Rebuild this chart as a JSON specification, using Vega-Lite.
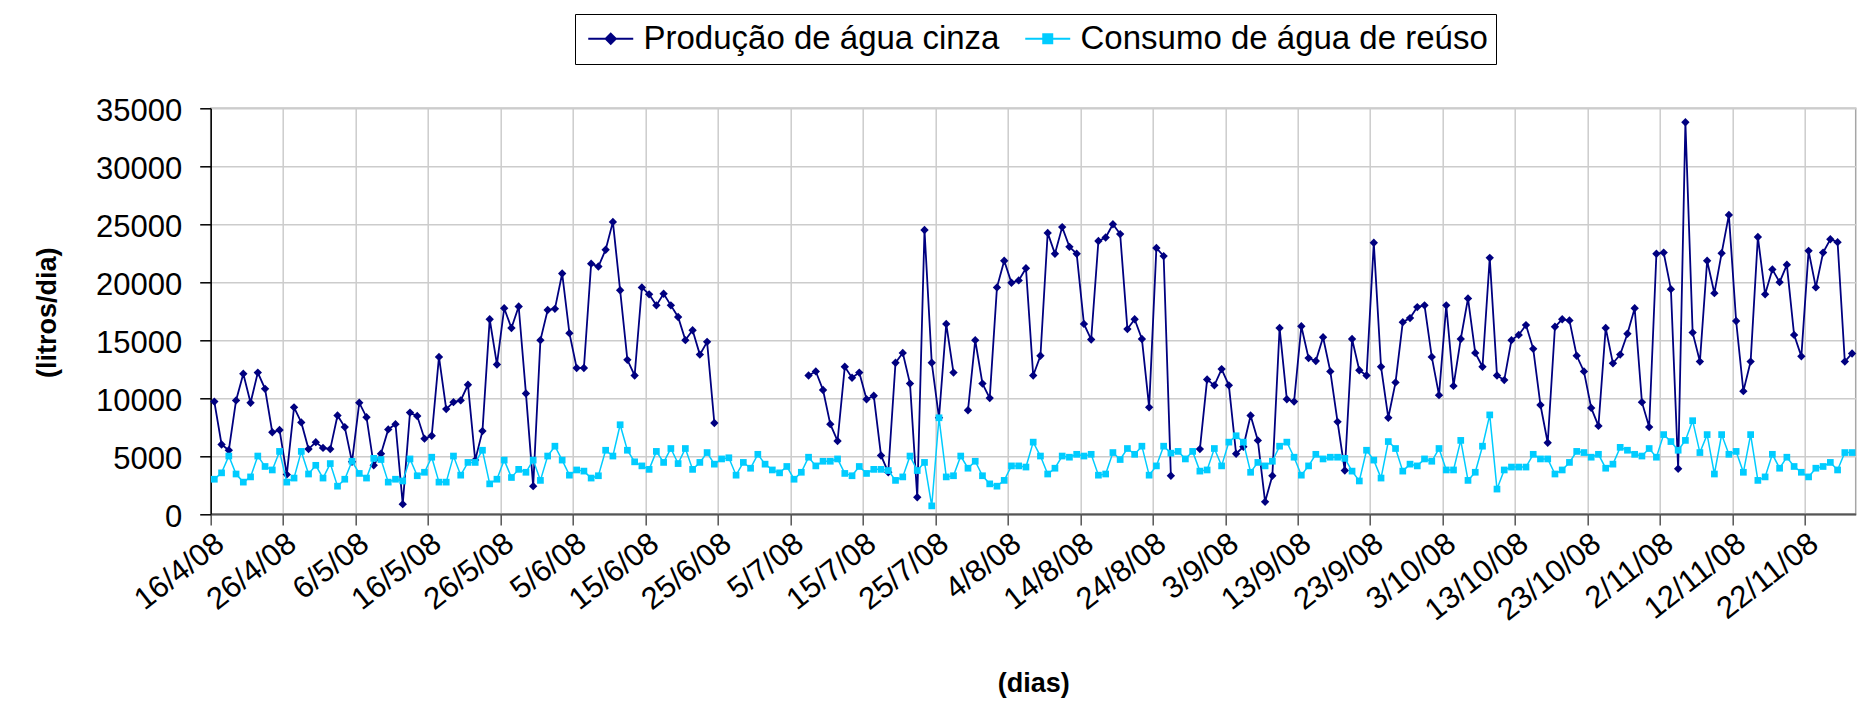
{
"$schema": "https://vega.github.io/schema/vega-lite/v6.json",
"width": 1645, "height": 405.7,
"autosize": {"type": "none"},
"padding": {"left": 210.7, "top": 108.3, "right": 15.3, "bottom": 203},
"background": "white",
"config": {
  "font": "Liberation Sans",
  "view": {"stroke": "#A6A6A6", "strokeWidth": 1.5},
  "axis": {"labelColor": "black", "titleColor": "black", "gridColor": "#CCCCCC", "gridWidth": 1.5}
},
"data": {"values": [
{"d":"2008-04-16","p":9700,"c":3000},{"d":"2008-04-17","p":6000,"c":3550},{"d":"2008-04-18","p":5500,"c":5000},{"d":"2008-04-19","p":9800,"c":3450},{"d":"2008-04-20","p":12100,"c":2750},{"d":"2008-04-21","p":9600,"c":3200},{"d":"2008-04-22","p":12200,"c":5000},{"d":"2008-04-23","p":10800,"c":4100},{"d":"2008-04-24","p":7050,"c":3800},{"d":"2008-04-25","p":7250,"c":5400},{"d":"2008-04-26","p":3400,"c":2750},{"d":"2008-04-27","p":9200,"c":3100},{"d":"2008-04-28","p":7900,"c":5400},{"d":"2008-04-29","p":5600,"c":3450},{"d":"2008-04-30","p":6200,"c":4200},
{"d":"2008-05-01","p":5700,"c":3100},{"d":"2008-05-02","p":5600,"c":4350},{"d":"2008-05-03","p":8500,"c":2400},{"d":"2008-05-04","p":7500,"c":3000},{"d":"2008-05-05","p":4500,"c":4550},{"d":"2008-05-06","p":9600,"c":3500},{"d":"2008-05-07","p":8350,"c":3100},{"d":"2008-05-08","p":4200,"c":4800},{"d":"2008-05-09","p":5200,"c":4700},{"d":"2008-05-10","p":7300,"c":2750},{"d":"2008-05-11","p":7750,"c":3000},{"d":"2008-05-12","p":850,"c":2850},{"d":"2008-05-13","p":8750,"c":4750},{"d":"2008-05-14","p":8450,"c":3300},{"d":"2008-05-15","p":6500,"c":3600},{"d":"2008-05-16","p":6750,"c":4900},{"d":"2008-05-17","p":13550,"c":2750},{"d":"2008-05-18","p":9050,"c":2750},{"d":"2008-05-19","p":9650,"c":5000},{"d":"2008-05-20","p":9800,"c":3350},{"d":"2008-05-21","p":11150,"c":4450},{"d":"2008-05-22","p":4650,"c":4450},{"d":"2008-05-23","p":7150,"c":5500},{"d":"2008-05-24","p":16800,"c":2600},{"d":"2008-05-25","p":12900,"c":3000},{"d":"2008-05-26","p":17750,"c":4650},{"d":"2008-05-27","p":16050,"c":3150},{"d":"2008-05-28","p":17900,"c":3850},{"d":"2008-05-29","p":10400,"c":3600},{"d":"2008-05-30","p":2400,"c":4650},{"d":"2008-05-31","p":15000,"c":2900},
{"d":"2008-06-01","p":17600,"c":5000},{"d":"2008-06-02","p":17700,"c":5850},{"d":"2008-06-03","p":20750,"c":4650},{"d":"2008-06-04","p":15600,"c":3350},{"d":"2008-06-05","p":12600,"c":3800},{"d":"2008-06-06","p":12600,"c":3700},{"d":"2008-06-07","p":21600,"c":3100},{"d":"2008-06-08","p":21350,"c":3300},{"d":"2008-06-09","p":22800,"c":5500},{"d":"2008-06-10","p":25200,"c":5000},{"d":"2008-06-11","p":19300,"c":7700},{"d":"2008-06-12","p":13300,"c":5500},{"d":"2008-06-13","p":11950,"c":4500},{"d":"2008-06-14","p":19550,"c":4150},{"d":"2008-06-15","p":18950,"c":3850},{"d":"2008-06-16","p":18000,"c":5400},{"d":"2008-06-17","p":19000,"c":4450},{"d":"2008-06-18","p":18000,"c":5650},{"d":"2008-06-19","p":17000,"c":4350},{"d":"2008-06-20","p":15000,"c":5650},{"d":"2008-06-21","p":15850,"c":3850},{"d":"2008-06-22","p":13750,"c":4450},{"d":"2008-06-23","p":14850,"c":5300},{"d":"2008-06-24","p":7850,"c":4300},{"d":"2008-06-25","p":null,"c":4750},{"d":"2008-06-26","p":null,"c":4850},{"d":"2008-06-27","p":null,"c":3350},{"d":"2008-06-28","p":null,"c":4450},{"d":"2008-06-29","p":null,"c":3950},{"d":"2008-06-30","p":null,"c":5150},
{"d":"2008-07-01","p":null,"c":4300},{"d":"2008-07-02","p":null,"c":3800},{"d":"2008-07-03","p":null,"c":3550},{"d":"2008-07-04","p":null,"c":4100},{"d":"2008-07-05","p":null,"c":3000},{"d":"2008-07-06","p":null,"c":3600},{"d":"2008-07-07","p":11950,"c":4900},{"d":"2008-07-08","p":12300,"c":4150},{"d":"2008-07-09","p":10700,"c":4550},{"d":"2008-07-10","p":7750,"c":4550},{"d":"2008-07-11","p":6300,"c":4750},{"d":"2008-07-12","p":12700,"c":3500},{"d":"2008-07-13","p":11750,"c":3300},{"d":"2008-07-14","p":12200,"c":4100},{"d":"2008-07-15","p":9900,"c":3500},{"d":"2008-07-16","p":10200,"c":3850},{"d":"2008-07-17","p":5050,"c":3850},{"d":"2008-07-18","p":3600,"c":3750},{"d":"2008-07-19","p":13050,"c":2900},{"d":"2008-07-20","p":13900,"c":3200},{"d":"2008-07-21","p":11250,"c":5000},{"d":"2008-07-22","p":1450,"c":3750},{"d":"2008-07-23","p":24500,"c":4450},{"d":"2008-07-24","p":13050,"c":700},{"d":"2008-07-25","p":8300,"c":8300},{"d":"2008-07-26","p":16400,"c":3200},{"d":"2008-07-27","p":12200,"c":3300},{"d":"2008-07-28","p":null,"c":5000},{"d":"2008-07-29","p":8950,"c":3950},{"d":"2008-07-30","p":15000,"c":4550},{"d":"2008-07-31","p":11250,"c":3300},
{"d":"2008-08-01","p":10000,"c":2600},{"d":"2008-08-02","p":19550,"c":2400},{"d":"2008-08-03","p":21850,"c":2900},{"d":"2008-08-04","p":19950,"c":4150},{"d":"2008-08-05","p":20150,"c":4150},{"d":"2008-08-06","p":21200,"c":4050},{"d":"2008-08-07","p":11950,"c":6200},{"d":"2008-08-08","p":13650,"c":5000},{"d":"2008-08-09","p":24250,"c":3450},{"d":"2008-08-10","p":22450,"c":3950},{"d":"2008-08-11","p":24750,"c":5000},{"d":"2008-08-12","p":23050,"c":4900},{"d":"2008-08-13","p":22450,"c":5150},{"d":"2008-08-14","p":16400,"c":5000},{"d":"2008-08-15","p":15050,"c":5150},{"d":"2008-08-16","p":23550,"c":3350},{"d":"2008-08-17","p":23850,"c":3450},{"d":"2008-08-18","p":25000,"c":5300},{"d":"2008-08-19","p":24150,"c":4700},{"d":"2008-08-20","p":15950,"c":5650},{"d":"2008-08-21","p":16800,"c":5150},{"d":"2008-08-22","p":15100,"c":5850},{"d":"2008-08-23","p":9200,"c":3350},{"d":"2008-08-24","p":22950,"c":4150},{"d":"2008-08-25","p":22250,"c":5850},{"d":"2008-08-26","p":3300,"c":5250},{"d":"2008-08-27","p":null,"c":5400},{"d":"2008-08-28","p":null,"c":4750},{"d":"2008-08-29","p":null,"c":5400},{"d":"2008-08-30","p":5600,"c":3700},{"d":"2008-08-31","p":11600,"c":3800},
{"d":"2008-09-01","p":11100,"c":5650},{"d":"2008-09-02","p":12500,"c":4150},{"d":"2008-09-03","p":11100,"c":6200},{"d":"2008-09-04","p":5200,"c":6750},{"d":"2008-09-05","p":5800,"c":6200},{"d":"2008-09-06","p":8500,"c":3600},{"d":"2008-09-07","p":6350,"c":4450},{"d":"2008-09-08","p":1050,"c":4150},{"d":"2008-09-09","p":3300,"c":4550},{"d":"2008-09-10","p":16050,"c":5850},{"d":"2008-09-11","p":9900,"c":6200},{"d":"2008-09-12","p":9700,"c":4900},{"d":"2008-09-13","p":16200,"c":3350},{"d":"2008-09-14","p":13450,"c":4150},{"d":"2008-09-15","p":13200,"c":5150},{"d":"2008-09-16","p":15250,"c":4750},{"d":"2008-09-17","p":12300,"c":4900},{"d":"2008-09-18","p":7950,"c":4900},{"d":"2008-09-19","p":3750,"c":4800},{"d":"2008-09-20","p":15100,"c":3700},{"d":"2008-09-21","p":12400,"c":2850},{"d":"2008-09-22","p":11950,"c":5500},{"d":"2008-09-23","p":23400,"c":4650},{"d":"2008-09-24","p":12700,"c":3100},{"d":"2008-09-25","p":8300,"c":6250},{"d":"2008-09-26","p":11350,"c":5650},{"d":"2008-09-27","p":16550,"c":3700},{"d":"2008-09-28","p":16900,"c":4300},{"d":"2008-09-29","p":17850,"c":4150},{"d":"2008-09-30","p":18000,"c":4750},
{"d":"2008-10-01","p":13550,"c":4550},{"d":"2008-10-02","p":10250,"c":5650},{"d":"2008-10-03","p":18000,"c":3800},{"d":"2008-10-04","p":11050,"c":3800},{"d":"2008-10-05","p":15100,"c":6350},{"d":"2008-10-06","p":18600,"c":2900},{"d":"2008-10-07","p":13900,"c":3600},{"d":"2008-10-08","p":12700,"c":5850},{"d":"2008-10-09","p":22100,"c":8550},{"d":"2008-10-10","p":11950,"c":2150},{"d":"2008-10-11","p":11550,"c":3800},{"d":"2008-10-12","p":15000,"c":4050},{"d":"2008-10-13","p":15450,"c":4050},{"d":"2008-10-14","p":16300,"c":4050},{"d":"2008-10-15","p":14250,"c":5150},{"d":"2008-10-16","p":9400,"c":4750},{"d":"2008-10-17","p":6150,"c":4750},{"d":"2008-10-18","p":16150,"c":3450},{"d":"2008-10-19","p":16800,"c":3800},{"d":"2008-10-20","p":16700,"c":4450},{"d":"2008-10-21","p":13650,"c":5400},{"d":"2008-10-22","p":12300,"c":5300},{"d":"2008-10-23","p":9150,"c":4900},{"d":"2008-10-24","p":7600,"c":5150},{"d":"2008-10-25","p":16050,"c":3950},{"d":"2008-10-26","p":13000,"c":4300},{"d":"2008-10-27","p":13750,"c":5750},{"d":"2008-10-28","p":15550,"c":5500},{"d":"2008-10-29","p":17750,"c":5150},{"d":"2008-10-30","p":9650,"c":5000},{"d":"2008-10-31","p":7500,"c":5650},
{"d":"2008-11-01","p":22450,"c":4900},{"d":"2008-11-02","p":22550,"c":6850},{"d":"2008-11-03","p":19400,"c":6250},{"d":"2008-11-04","p":3900,"c":5500},{"d":"2008-11-05","p":33800,"c":6350},{"d":"2008-11-06","p":15650,"c":8050},{"d":"2008-11-07","p":13150,"c":5300},{"d":"2008-11-08","p":21850,"c":6850},{"d":"2008-11-09","p":19050,"c":3450},{"d":"2008-11-10","p":22500,"c":6850},{"d":"2008-11-11","p":25800,"c":5150},{"d":"2008-11-12","p":16650,"c":5400},{"d":"2008-11-13","p":10600,"c":3600},{"d":"2008-11-14","p":13150,"c":6850},{"d":"2008-11-15","p":23900,"c":2900},{"d":"2008-11-16","p":18950,"c":3200},{"d":"2008-11-17","p":21100,"c":5150},{"d":"2008-11-18","p":20000,"c":3950},{"d":"2008-11-19","p":21500,"c":4900},{"d":"2008-11-20","p":15450,"c":4100},{"d":"2008-11-21","p":13600,"c":3600},{"d":"2008-11-22","p":22700,"c":3200},{"d":"2008-11-23","p":19550,"c":3950},{"d":"2008-11-24","p":22550,"c":4100},{"d":"2008-11-25","p":23700,"c":4450},{"d":"2008-11-26","p":23450,"c":3800},{"d":"2008-11-27","p":13150,"c":5300},{"d":"2008-11-28","p":13850,"c":5300}
]},
"transform": [{"fold": ["p", "c"], "as": ["k", "v"]}],
"encoding": {
  "x": {"field": "d", "type": "temporal",
    "scale": {"type": "utc", "nice": false, "domain": [{"year":2008,"month":4,"date":15,"hours":12,"utc":true},{"year":2008,"month":11,"date":28,"hours":12,"utc":true}]},
    "axis": {
      "values": [{"year":2008,"month":4,"date":15,"hours":12,"utc":true},{"year":2008,"month":4,"date":25,"hours":12,"utc":true},{"year":2008,"month":5,"date":5,"hours":12,"utc":true},{"year":2008,"month":5,"date":15,"hours":12,"utc":true},{"year":2008,"month":5,"date":25,"hours":12,"utc":true},{"year":2008,"month":6,"date":4,"hours":12,"utc":true},{"year":2008,"month":6,"date":14,"hours":12,"utc":true},{"year":2008,"month":6,"date":24,"hours":12,"utc":true},{"year":2008,"month":7,"date":4,"hours":12,"utc":true},{"year":2008,"month":7,"date":14,"hours":12,"utc":true},{"year":2008,"month":7,"date":24,"hours":12,"utc":true},{"year":2008,"month":8,"date":3,"hours":12,"utc":true},{"year":2008,"month":8,"date":13,"hours":12,"utc":true},{"year":2008,"month":8,"date":23,"hours":12,"utc":true},{"year":2008,"month":9,"date":2,"hours":12,"utc":true},{"year":2008,"month":9,"date":12,"hours":12,"utc":true},{"year":2008,"month":9,"date":22,"hours":12,"utc":true},{"year":2008,"month":10,"date":2,"hours":12,"utc":true},{"year":2008,"month":10,"date":12,"hours":12,"utc":true},{"year":2008,"month":10,"date":22,"hours":12,"utc":true},{"year":2008,"month":11,"date":1,"hours":12,"utc":true},{"year":2008,"month":11,"date":11,"hours":12,"utc":true},{"year":2008,"month":11,"date":21,"hours":12,"utc":true}],
      "labelExpr": "utcFormat(time(datum.value) + 43200000, '%-d/%-m/%y')",
      "labelAngle": -38, "labelAlign": "right", "labelBaseline": "top",
      "labelFontSize": 31, "labelPadding": 3, "labelOverlap": false, "labelFlush": false,
      "tickSize": 11, "tickColor": "#555555", "tickWidth": 1.5,
      "domainColor": "#555555", "domainWidth": 2,
      "title": "(dias)", "titleFontSize": 27, "titleFontWeight": "bold", "titleY": 169, "titleBaseline": "middle"
    }},
  "y": {"field": "v", "type": "quantitative",
    "scale": {"domain": [0, 35000], "nice": false},
    "axis": {
      "values": [0, 5000, 10000, 15000, 20000, 25000, 30000, 35000], "format": "d",
      "labelFontSize": 31, "labelPadding": 18, "labelOffset": 3,
      "tickSize": 11, "tickColor": "black", "tickWidth": 1.5,
      "domainColor": "black", "domainWidth": 1.5,
      "title": "(litros/dia)", "titleFontSize": 27, "titleFontWeight": "bold",
      "titleX": -163, "titleY": 204, "titleBaseline": "middle", "titleAlign": "center", "titleAngle": -90
    }},
  "color": {"field": "k", "type": "nominal",
    "scale": {"domain": ["p", "c"], "range": ["#000080", "#00CCFF"]},
    "legend": {
      "orient": "none", "legendX": 364.3, "legendY": -94.3, "direction": "horizontal",
      "title": null,
      "labelExpr": "datum.value === 'p' ? 'Produção de água cinza' : 'Consumo de água de reúso'",
      "labelFont": "Liberation Sans", "labelFontSize": 33, "labelLimit": 800, "labelColor": "black",
      "symbolSize": 506, "labelOffset": 27.5, "columnPadding": 20, "padding": 8,
      "strokeColor": "black", "fillColor": "white", "symbolStrokeWidth": 2,
      "encode": {"symbols": {"update": {
        "shape": {"signal": "datum.value === 'p' ? 'M-1,0H3M1,-0.45L1.45,0L1,0.45L0.55,0Z' : 'M-1,0H3M0.6,-0.4H1.4V0.4H0.6Z'"},
        "fill": {"signal": "datum.value === 'p' ? '#000080' : '#00CCFF'"},
        "stroke": {"signal": "datum.value === 'p' ? '#000080' : '#00CCFF'"},
        "strokeWidth": {"value": 2},
        "opacity": {"value": 1}
      }}}
    }}
},
"layer": [
  {"transform": [{"filter": "datum.k === 'p'"}], "mark": {"type": "line", "strokeWidth": 1.8, "invalid": "break-paths-show-domains"}},
  {"transform": [{"filter": "datum.k === 'p'"}], "mark": {"type": "point", "shape": "diamond", "filled": true, "size": 70, "opacity": 1}},
  {"transform": [{"filter": "datum.k === 'c'"}], "mark": {"type": "line", "strokeWidth": 1.5, "invalid": "break-paths-show-domains"}},
  {"transform": [{"filter": "datum.k === 'c'"}], "mark": {"type": "point", "shape": "square", "filled": true, "size": 45, "opacity": 1}}
]
}
